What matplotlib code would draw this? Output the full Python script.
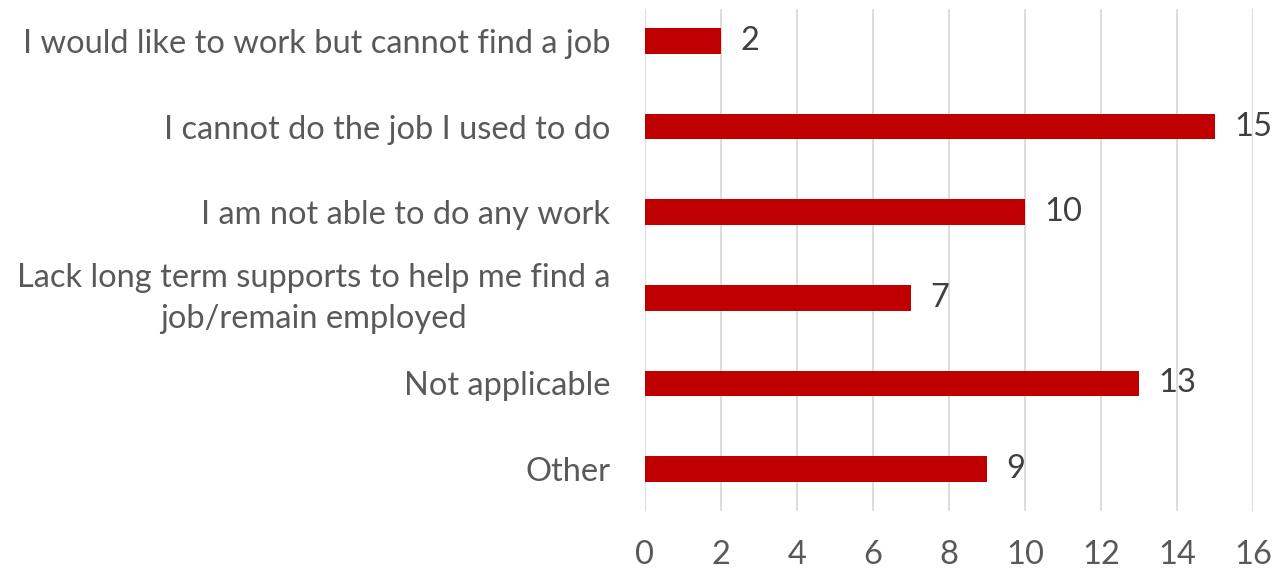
import matplotlib
matplotlib.use("Agg")
import matplotlib.pyplot as plt
from matplotlib.transforms import ScaledTranslation

categories = [
    "I would like to work but cannot find a job",
    "I cannot do the job I used to do",
    "I am not able to do any work",
    "Lack long term supports to help me find a\njob/remain employed",
    "Not applicable",
    "Other",
]
values = [2, 15, 10, 7, 13, 9]
xticks = [0, 2, 4, 6, 8, 10, 12, 14, 16]

plt.rcParams["font.family"] = ["Lato", "DejaVu Sans"]
text_color = "#595959"
bar_color = "#C00000"

fig = plt.figure(figsize=(12.74, 5.71), dpi=100)
ax = fig.add_axes([645 / 1274, 1 - 511 / 571, (1253 - 645) / 1274, (511 - 9) / 571])

pos = list(range(len(categories)))
ax.barh(pos, values, height=0.30, color=bar_color, zorder=3)

for p, v in zip(pos, values):
    ax.text(v + 0.5, p, str(v), va="center", ha="left",
            fontsize=23.5, color="#404040")

ax.set_xlim(0, 16)
ax.set_ylim(5.49, -0.374)
ax.set_xticks(xticks)
ax.set_xticklabels([str(t) for t in xticks])
ax.set_yticks(pos)
ax.set_yticklabels(categories, multialignment="center", linespacing=1.45)

ax.tick_params(axis="x", length=0, pad=21, labelsize=23.5, labelcolor=text_color)
ax.tick_params(axis="y", length=0, pad=25, labelsize=23.5, labelcolor=text_color)

# nudge the two-line label up so both lines sit evenly around its bar
for lbl in ax.get_yticklabels():
    if "\n" in lbl.get_text():
        lbl.set_transform(lbl.get_transform() + ScaledTranslation(0, 8 / 100, fig.dpi_scale_trans))

ax.grid(axis="x", color="#D9D9D9", linewidth=1.3, zorder=0)
ax.grid(axis="y", visible=False)
for s in ax.spines.values():
    s.set_visible(False)

fig.savefig("out.png", dpi=100, facecolor="white")
